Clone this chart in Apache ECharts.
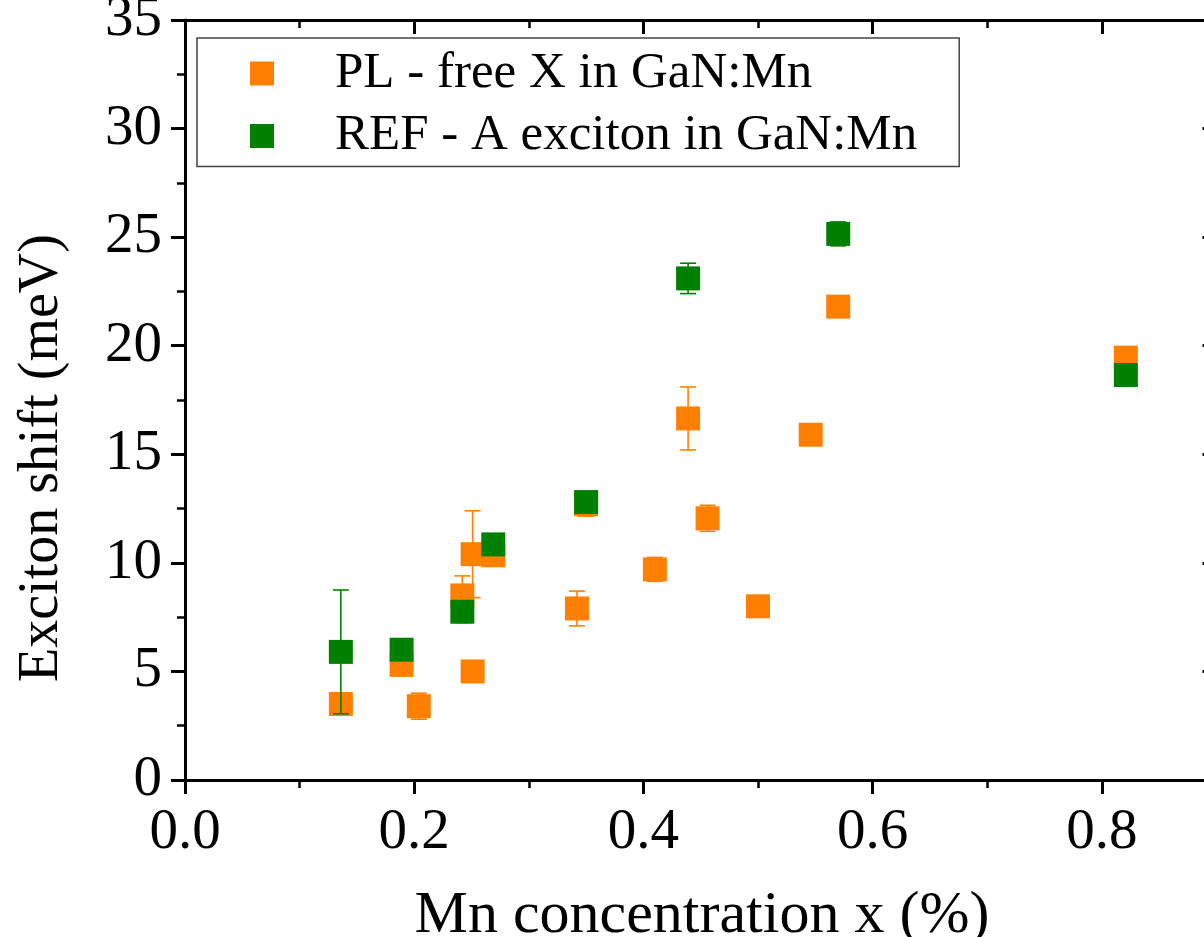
<!DOCTYPE html>
<html>
<head>
<meta charset="utf-8">
<title>Exciton shift vs Mn concentration</title>
<script src="https://cdn.jsdelivr.net/npm/echarts@6/dist/echarts.min.js"></script>
<style>
  html, body { margin: 0; padding: 0; background: #fff; }
  #chart { width: 1204px; height: 937px; }
</style>
</head>
<body>
<div id="chart"></div>
<script>
// PL: free exciton in GaN:Mn
const plConc  = [0.136, 0.189, 0.204, 0.242, 0.251, 0.251, 0.269, 0.342, 0.350, 0.410, 0.439, 0.456, 0.500, 0.546, 0.570, 0.821];
const plShift = [3.5,   5.3,   3.4,   8.5,   10.4,  5.0,   10.35, 7.9,   12.7,  9.7,   16.65, 12.05, 8.0,   15.9,  21.8,  19.45];
const plErr   = [0.3,   0.2,   0.6,   0.9,   2.0,   0.2,   0.2,   0.8,   0.55,  0.55,  1.45,  0.6,   0.2,   0.4,   0.4,   0.3];

// REF: A exciton in GaN:Mn
const refConc  = [0.136, 0.189, 0.242, 0.269, 0.350, 0.439, 0.570, 0.821];
const refShift = [5.9,   6.0,   7.75,  10.85, 12.8,  23.1,  25.15, 18.65];
const refErr   = [2.85,  0.2,   0.5,   0.2,   0.3,   0.7,   0.55,  0.3];

const seriesNames = ['PL - free X in GaN:Mn', 'REF - A exciton in GaN:Mn'];
const xTitle = 'Mn concentration x (%)';
const yTitle = 'Exciton shift (meV)';

const ORANGE = '#FF8000';
const GREEN = '#008000';
const FONT = '"Liberation Serif", "Times New Roman", serif';

function triples(xs, ys, es) {
  return xs.map((x, i) => [x, ys[i], es[i]]);
}

function errorBars(color) {
  return function (params, api) {
    const x = api.value(0), y = api.value(1), e = api.value(2);
    const hi = api.coord([x, y + e]);
    const lo = api.coord([x, y - e]);
    const hw = 8;
    const st = { stroke: color, lineWidth: 1.6 };
    return {
      type: 'group',
      children: [
        { type: 'line', shape: { x1: hi[0], y1: hi[1], x2: lo[0], y2: lo[1] }, style: st },
        { type: 'line', shape: { x1: hi[0] - hw, y1: hi[1], x2: hi[0] + hw, y2: hi[1] }, style: st },
        { type: 'line', shape: { x1: lo[0] - hw, y1: lo[1], x2: lo[0] + hw, y2: lo[1] }, style: st }
      ]
    };
  };
}

const axisLine = { show: true, onZero: false, lineStyle: { color: '#000', width: 3 } };
const majorTick = (inside) => ({ show: true, inside, length: 14, lineStyle: { color: '#000', width: 3 } });
const minorTick = { show: true, splitNumber: 2, length: 8, lineStyle: { color: '#000', width: 2.5 } };

const chart = echarts.init(document.getElementById('chart'), null, { renderer: 'canvas' });

chart.setOption({
  backgroundColor: '#fff',
  animation: false,
  grid: { left: 185, top: 20, right: -127, bottom: 157, containLabel: false, outerBoundsMode: 'none' },
  xAxis: [
    {
      type: 'value', position: 'bottom', min: 0, max: 1.0, interval: 0.2,
      axisLine, axisTick: majorTick(false), minorTick,
      splitLine: { show: false }, minorSplitLine: { show: false },
      axisLabel: {
        margin: 25, fontSize: 57, fontFamily: FONT, color: '#000',
        formatter: (v) => v.toFixed(1), showMaxLabel: false
      }
    },
    {
      type: 'value', position: 'top', min: 0, max: 1.0, interval: 0.2,
      axisLine, axisTick: majorTick(true), minorTick,
      splitLine: { show: false }, axisLabel: { show: false }
    }
  ],
  yAxis: [
    {
      type: 'value', position: 'left', min: 0, max: 35, interval: 5,
      axisLine, axisTick: majorTick(false), minorTick,
      splitLine: { show: false }, minorSplitLine: { show: false },
      axisLabel: { margin: 23, fontSize: 57, fontFamily: FONT, color: '#000' }
    },
    {
      type: 'value', position: 'right', offset: -114.5, min: 0, max: 35, interval: 5,
      axisLine, axisTick: majorTick(true), minorTick,
      splitLine: { show: false }, axisLabel: { show: false }
    }
  ],
  legend: {
    data: seriesNames,
    orient: 'vertical',
    left: 197, top: 38,
    padding: [10, 42, 5, 53],
    itemGap: 11.5,
    itemWidth: 24, itemHeight: 24,
    icon: 'rect',
    borderColor: '#444', borderWidth: 1.5,
    backgroundColor: '#fff',
    textStyle: { fontSize: 51, lineHeight: 51, fontFamily: FONT, color: '#000', padding: [0, 0, 0, 56] }
  },
  graphic: [
    {
      type: 'text', x: 702, y: 916,
      style: { text: xTitle, align: 'center', verticalAlign: 'middle', fontSize: 60, fontFamily: FONT, fill: '#000' }
    },
    {
      type: 'text', x: 42, y: 458, rotation: Math.PI / 2,
      style: { text: yTitle, align: 'center', verticalAlign: 'middle', fontSize: 56, fontFamily: FONT, fill: '#000' }
    }
  ],
  series: [
    {
      name: 'PL error', type: 'custom', z: 2,
      renderItem: errorBars(ORANGE),
      encode: { x: 0, y: 1 },
      data: triples(plConc, plShift, plErr)
    },
    {
      name: seriesNames[0], type: 'scatter', z: 3,
      symbol: 'rect', symbolSize: 24,
      itemStyle: { color: ORANGE, opacity: 1 },
      data: plConc.map((x, i) => [x, plShift[i]])
    },
    {
      name: 'REF error', type: 'custom', z: 4,
      renderItem: errorBars(GREEN),
      encode: { x: 0, y: 1 },
      data: triples(refConc, refShift, refErr)
    },
    {
      name: seriesNames[1], type: 'scatter', z: 5,
      symbol: 'rect', symbolSize: 24,
      itemStyle: { color: GREEN, opacity: 1 },
      data: refConc.map((x, i) => [x, refShift[i]])
    }
  ]
});
</script>
</body>
</html>
